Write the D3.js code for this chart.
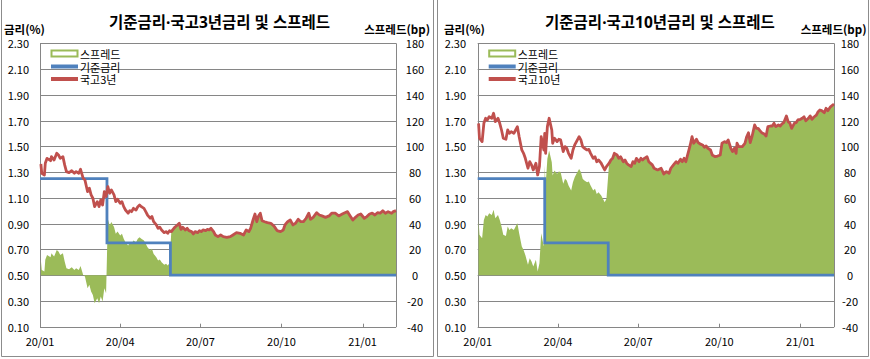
<!DOCTYPE html>
<html><head><meta charset="utf-8">
<script src="https://cdn.jsdelivr.net/npm/d3@7"></script>
<style>
body{margin:0;background:#fff}
svg{display:block}
text{font-family:"Noto Sans CJK KR","Noto Sans",sans-serif;fill:#000}
</style>
</head><body>
<svg id="c" width="870" height="359"></svg>
<script>
// ---------- DATA ----------
const ktb3 = [
["2020-01-02",1.363],["2020-01-03",1.291],["2020-01-06",1.278],["2020-01-07",1.369],["2020-01-09",1.407],["2020-01-13",1.389],["2020-01-14",1.420],["2020-01-17",1.394],["2020-01-20",1.446],["2020-01-22",1.433],["2020-01-24",1.407],["2020-01-27",1.420],["2020-01-29",1.356],["2020-01-31",1.304],["2020-02-03",1.296],["2020-02-06",1.311],["2020-02-09",1.291],["2020-02-11",1.304],["2020-02-14",1.291],["2020-02-16",1.322],["2020-02-19",1.252],["2020-02-21",1.239],["2020-02-24",1.148],["2020-02-26",1.175],["2020-02-28",1.123],["2020-03-01",1.097],["2020-03-03",1.032],["2020-03-06",1.071],["2020-03-08",1.032],["2020-03-10",1.084],["2020-03-12",1.045],["2020-03-14",1.148],["2020-03-16",1.110],["2020-03-18",1.187],["2020-03-20",1.136],["2020-03-22",1.162],["2020-03-25",1.123],["2020-03-27",1.071],["2020-03-29",1.090],["2020-04-01",1.058],["2020-04-03",1.071],["2020-04-05",1.032],["2020-04-07",1.006],["2020-04-10",0.981],["2020-04-12",1.001],["2020-04-14",0.993],["2020-04-16",1.019],["2020-04-19",1.006],["2020-04-21",1.032],["2020-04-23",1.045],["2020-04-25",1.032],["2020-04-28",1.019],["2020-04-30",0.993],["2020-05-02",0.967],["2020-05-05",0.942],["2020-05-07",0.955],["2020-05-09",0.915],["2020-05-12",0.890],["2020-05-14",0.864],["2020-05-16",0.872],["2020-05-18",0.851],["2020-05-21",0.830],["2020-05-23",0.838],["2020-05-25",0.825],["2020-05-27",0.845],["2020-05-29",0.838],["2020-05-31",0.856],["2020-06-02",0.872],["2020-06-05",0.890],["2020-06-07",0.903],["2020-06-09",0.856],["2020-06-11",0.872],["2020-06-14",0.851],["2020-06-16",0.864],["2020-06-18",0.846],["2020-06-21",0.838],["2020-06-23",0.820],["2020-06-25",0.838],["2020-06-28",0.830],["2020-06-30",0.846],["2020-07-02",0.838],["2020-07-04",0.851],["2020-07-07",0.846],["2020-07-09",0.856],["2020-07-11",0.851],["2020-07-13",0.864],["2020-07-16",0.838],["2020-07-18",0.812],["2020-07-21",0.799],["2020-07-24",0.812],["2020-07-27",0.799],["2020-07-31",0.794],["2020-08-04",0.799],["2020-08-07",0.812],["2020-08-11",0.830],["2020-08-15",0.825],["2020-08-19",0.812],["2020-08-22",0.851],["2020-08-25",0.838],["2020-08-27",0.864],["2020-08-30",0.934],["2020-09-01",0.975],["2020-09-03",0.915],["2020-09-05",0.960],["2020-09-07",0.981],["2020-09-09",0.923],["2020-09-12",0.915],["2020-09-15",0.908],["2020-09-19",0.903],["2020-09-23",0.877],["2020-09-26",0.846],["2020-09-30",0.838],["2020-10-03",0.851],["2020-10-05",0.890],["2020-10-08",0.915],["2020-10-11",0.928],["2020-10-14",0.890],["2020-10-17",0.903],["2020-10-20",0.934],["2020-10-23",0.915],["2020-10-26",0.915],["2020-10-29",0.942],["2020-11-01",0.981],["2020-11-03",0.934],["2020-11-06",0.949],["2020-11-10",0.985],["2020-11-13",0.967],["2020-11-16",0.960],["2020-11-20",0.949],["2020-11-24",0.960],["2020-11-27",0.981],["2020-12-01",0.981],["2020-12-05",0.960],["2020-12-09",0.975],["2020-12-12",0.985],["2020-12-15",0.993],["2020-12-18",0.960],["2020-12-21",0.928],["2020-12-24",0.949],["2020-12-27",0.967],["2020-12-30",0.975],["2021-01-03",0.942],["2021-01-06",0.955],["2021-01-09",0.975],["2021-01-12",0.981],["2021-01-15",0.967],["2021-01-18",0.985],["2021-01-21",0.981],["2021-01-24",1.001],["2021-01-27",0.981],["2021-01-30",0.993],["2021-02-03",0.981],["2021-02-05",0.993],["2021-02-08",1.001]
];
const ktb10 = [
["2020-01-02",1.679],["2020-01-03",1.563],["2020-01-06",1.537],["2020-01-08",1.679],["2020-01-10",1.718],["2020-01-12",1.705],["2020-01-14",1.730],["2020-01-17",1.718],["2020-01-19",1.757],["2020-01-21",1.692],["2020-01-24",1.718],["2020-01-26",1.679],["2020-01-28",1.627],["2020-01-30",1.563],["2020-02-02",1.555],["2020-02-04",1.627],["2020-02-06",1.601],["2020-02-08",1.614],["2020-02-11",1.601],["2020-02-13",1.627],["2020-02-15",1.653],["2020-02-17",1.575],["2020-02-20",1.472],["2020-02-22",1.446],["2020-02-24",1.407],["2020-02-27",1.330],["2020-02-29",1.381],["2020-03-02",1.356],["2020-03-04",1.317],["2020-03-07",1.369],["2020-03-09",1.278],["2020-03-11",1.343],["2020-03-13",1.575],["2020-03-16",1.472],["2020-03-17",1.601],["2020-03-18",1.446],["2020-03-20",1.653],["2020-03-22",1.718],["2020-03-25",1.627],["2020-03-26",1.524],["2020-03-28",1.563],["2020-03-31",1.537],["2020-04-02",1.555],["2020-04-04",1.550],["2020-04-07",1.459],["2020-04-09",1.498],["2020-04-11",1.485],["2020-04-13",1.446],["2020-04-16",1.407],["2020-04-18",1.472],["2020-04-20",1.511],["2020-04-22",1.537],["2020-04-25",1.575],["2020-04-27",1.550],["2020-04-29",1.498],["2020-05-01",1.485],["2020-05-04",1.472],["2020-05-06",1.477],["2020-05-08",1.446],["2020-05-11",1.407],["2020-05-13",1.420],["2020-05-15",1.381],["2020-05-17",1.394],["2020-05-20",1.369],["2020-05-22",1.343],["2020-05-24",1.317],["2020-05-26",1.343],["2020-05-29",1.369],["2020-05-31",1.394],["2020-06-02",1.407],["2020-06-04",1.446],["2020-06-07",1.433],["2020-06-09",1.407],["2020-06-11",1.420],["2020-06-14",1.381],["2020-06-16",1.394],["2020-06-18",1.369],["2020-06-20",1.356],["2020-06-23",1.343],["2020-06-25",1.381],["2020-06-27",1.369],["2020-06-29",1.407],["2020-07-02",1.381],["2020-07-04",1.407],["2020-07-06",1.394],["2020-07-08",1.407],["2020-07-11",1.420],["2020-07-13",1.381],["2020-07-17",1.356],["2020-07-19",1.330],["2020-07-23",1.317],["2020-07-27",1.330],["2020-07-30",1.286],["2020-08-02",1.304],["2020-08-05",1.291],["2020-08-07",1.330],["2020-08-10",1.356],["2020-08-13",1.381],["2020-08-15",1.369],["2020-08-18",1.400],["2020-08-20",1.381],["2020-08-22",1.407],["2020-08-24",1.381],["2020-08-27",1.459],["2020-08-29",1.511],["2020-08-31",1.575],["2020-09-02",1.524],["2020-09-05",1.555],["2020-09-07",1.529],["2020-09-09",1.519],["2020-09-12",1.511],["2020-09-14",1.493],["2020-09-16",1.503],["2020-09-18",1.485],["2020-09-21",1.472],["2020-09-23",1.433],["2020-09-26",1.420],["2020-09-29",1.425],["2020-10-02",1.433],["2020-10-04",1.524],["2020-10-07",1.537],["2020-10-09",1.529],["2020-10-11",1.550],["2020-10-14",1.485],["2020-10-16",1.459],["2020-10-18",1.485],["2020-10-20",1.446],["2020-10-21",1.524],["2020-10-23",1.498],["2020-10-27",1.498],["2020-10-30",1.524],["2020-11-01",1.575],["2020-11-03",1.606],["2020-11-05",1.529],["2020-11-07",1.575],["2020-11-10",1.666],["2020-11-12",1.640],["2020-11-14",1.640],["2020-11-16",1.622],["2020-11-18",1.606],["2020-11-21",1.596],["2020-11-23",1.580],["2020-11-25",1.653],["2020-11-28",1.658],["2020-11-30",1.658],["2020-12-02",1.679],["2020-12-04",1.653],["2020-12-07",1.666],["2020-12-09",1.658],["2020-12-11",1.674],["2020-12-13",1.684],["2020-12-16",1.736],["2020-12-18",1.692],["2020-12-20",1.679],["2020-12-22",1.640],["2020-12-25",1.679],["2020-12-27",1.684],["2020-12-29",1.705],["2021-01-01",1.710],["2021-01-03",1.718],["2021-01-05",1.730],["2021-01-07",1.699],["2021-01-10",1.718],["2021-01-12",1.736],["2021-01-14",1.710],["2021-01-16",1.726],["2021-01-19",1.743],["2021-01-21",1.769],["2021-01-23",1.782],["2021-01-25",1.777],["2021-01-28",1.761],["2021-01-30",1.796],["2021-02-01",1.777],["2021-02-04",1.807],["2021-02-08",1.829]
];
// base rate change points (%)
const baseRate = [["2020-01-01",1.25],["2020-03-17",0.75],["2020-05-28",0.50],["2021-02-08",0.50]];
const leftTicks = [0.10,0.30,0.50,0.70,0.90,1.10,1.30,1.50,1.70,1.90,2.10,2.30];
const rightTicks = [-40,-20,0,20,40,60,80,100,120,140,160,180];
const xTickDates = ["2020-01-01","2020-04-01","2020-07-01","2020-10-01","2021-01-01"];
const dateRange = ["2020-01-01","2021-02-08"];
const titles = ["기준금리·국고3년금리 및 스프레드","기준금리·국고10년금리 및 스프레드"];
const legend3 = ["스프레드","기준금리","국고3년"];
const legend10 = ["스프레드","기준금리","국고10년"];
const axisTitles = ["금리(%)","스프레드(bp)"];

// ---------- DRAW ----------
const parse = d3.timeParse("%Y-%m-%d");
const svg = d3.select("#c");
const GREEN="#9BBB59", BLUE="#4F81BD", RED="#C0504D", GRID="#868686", BORDER="#8c8c8c";

const baseParsed = baseRate.map(d=>({date:parse(d[0]),v:d[1]}));
function baseAt(dt){let v=baseParsed[0].v;for(const b of baseParsed){if(b.date<=dt)v=b.v;}return v;}

const panels = [
 {ktb:ktb3, legend:legend3, title:titles[0], x0:40, x1:396, titleX:219.5, leftLabX:29, rightLabX:415, axL:4, axR:430, bx0:1.5, bx1:433.5},
 {ktb:ktb10, legend:legend10, title:titles[1], x0:477.7, x1:834, titleX:660, leftLabX:466, rightLabX:850, axL:444, axR:866.5, bx0:437.5, bx1:868.5}
];
const yTop=43.3, yBot=326.7;

panels.forEach(p=>{
  const g = svg.append("g");
  const x = d3.scaleTime().domain(dateRange.map(parse)).range([p.x0,p.x1]);
  const yL = d3.scaleLinear().domain([0.10,2.30]).range([yBot,yTop]);
  const yR = d3.scaleLinear().domain([-40,180]).range([yBot,yTop]);
  const ktb = p.ktb.map(d=>({date:parse(d[0]),v:d[1]}));
  const spread = ktb.map(d=>({date:d.date,v:(d.v-baseAt(d.date))*100}));

  // panel border (left, right, bottom)
  g.append("path").attr("d",`M${p.bx0},0V356.5H${p.bx1}V0`).attr("fill","none").attr("stroke",BORDER).attr("stroke-width",1);

  // gridlines
  g.append("g").selectAll("line").data(leftTicks).join("line")
    .attr("x1",p.x0).attr("x2",p.x1).attr("y1",d=>Math.round(yL(d))+0.5).attr("y2",d=>Math.round(yL(d))+0.5)
    .attr("stroke",GRID).attr("stroke-width",1);
  // axis lines
  g.append("line").attr("x1",Math.round(p.x0)+0.5).attr("x2",Math.round(p.x0)+0.5).attr("y1",yTop).attr("y2",yBot+0.5).attr("stroke",GRID);
  g.append("line").attr("x1",Math.round(p.x1)+0.5).attr("x2",Math.round(p.x1)+0.5).attr("y1",yTop).attr("y2",yBot+0.5).attr("stroke",GRID);

  // spread area
  const area = d3.area().x(d=>x(d.date)).y0(yR(0)).y1(d=>yR(d.v));
  g.append("path").datum(spread).attr("d",area).attr("fill",GREEN);

  // x ticks (inside)
  g.append("g").selectAll("line").data(xTickDates).join("line")
    .attr("x1",d=>Math.round(x(parse(d)))+0.5).attr("x2",d=>Math.round(x(parse(d)))+0.5)
    .attr("y1",yBot-3).attr("y2",yBot+0.5).attr("stroke",GRID);

  // base rate
  const bline = d3.line().x(d=>x(d.date)).y(d=>yL(d.v)).curve(d3.curveStepAfter);
  g.append("path").datum(baseParsed).attr("d",bline).attr("fill","none").attr("stroke",BLUE).attr("stroke-width",2.8);
  // ktb
  const kline = d3.line().x(d=>x(d.date)).y(d=>yL(d.v));
  g.append("path").datum(ktb).attr("d",kline).attr("fill","none").attr("stroke",RED).attr("stroke-width",2.8).attr("stroke-linejoin","round");

  // y labels
  g.append("g").selectAll("text").data(leftTicks).join("text")
    .attr("x",p.leftLabX).attr("y",d=>yL(d)).attr("text-anchor","end").attr("dominant-baseline","central")
    .attr("font-size",11).text(d3.format(".2f"));
  g.append("g").selectAll("text").data(rightTicks).join("text")
    .attr("x",p.rightLabX).attr("y",d=>yR(d)).attr("text-anchor","middle").attr("dominant-baseline","central")
    .attr("font-size",11).text(d=>d);
  // x labels
  const fmt = d3.timeFormat("%y/%m");
  g.append("g").selectAll("text").data(xTickDates).join("text")
    .attr("x",d=>x(parse(d))).attr("y",341).attr("text-anchor","middle").attr("dominant-baseline","central")
    .attr("font-size",11).text(d=>fmt(parse(d)));

  // titles
  g.append("text").attr("x",p.titleX).attr("y",22).attr("text-anchor","middle").attr("dominant-baseline","central")
    .style("font-family",'"Noto Sans","Noto Sans CJK KR",sans-serif')
    .attr("font-size",15.5).attr("font-weight","bold").text(p.title);
  g.append("text").attr("x",p.axL).attr("y",29).attr("dominant-baseline","central")
    .attr("font-size",11.5).attr("font-weight","bold").text(axisTitles[0]);
  g.append("text").attr("x",p.axR).attr("y",29).attr("text-anchor","end").attr("dominant-baseline","central")
    .attr("font-size",11.5).attr("font-weight","bold").text(axisTitles[1]);

  // legend
  const lx = p.x0+11, ly=[53.5,66.5,79];
  g.append("rect").attr("x",lx+0.5).attr("y",ly[0]-3).attr("width",26).attr("height",6)
    .attr("fill","#fff").attr("stroke",GREEN).attr("stroke-width",2);
  g.append("line").attr("x1",lx).attr("x2",lx+27).attr("y1",ly[1]).attr("y2",ly[1]).attr("stroke",BLUE).attr("stroke-width",4);
  g.append("line").attr("x1",lx).attr("x2",lx+27).attr("y1",ly[2]).attr("y2",ly[2]).attr("stroke",RED).attr("stroke-width",4);
  g.append("g").selectAll("text").data(p.legend).join("text")
    .attr("x",lx+29).attr("y",(d,i)=>ly[i]).attr("dominant-baseline","central").attr("font-size",11).text(d=>d);
});
</script>
</body></html>
